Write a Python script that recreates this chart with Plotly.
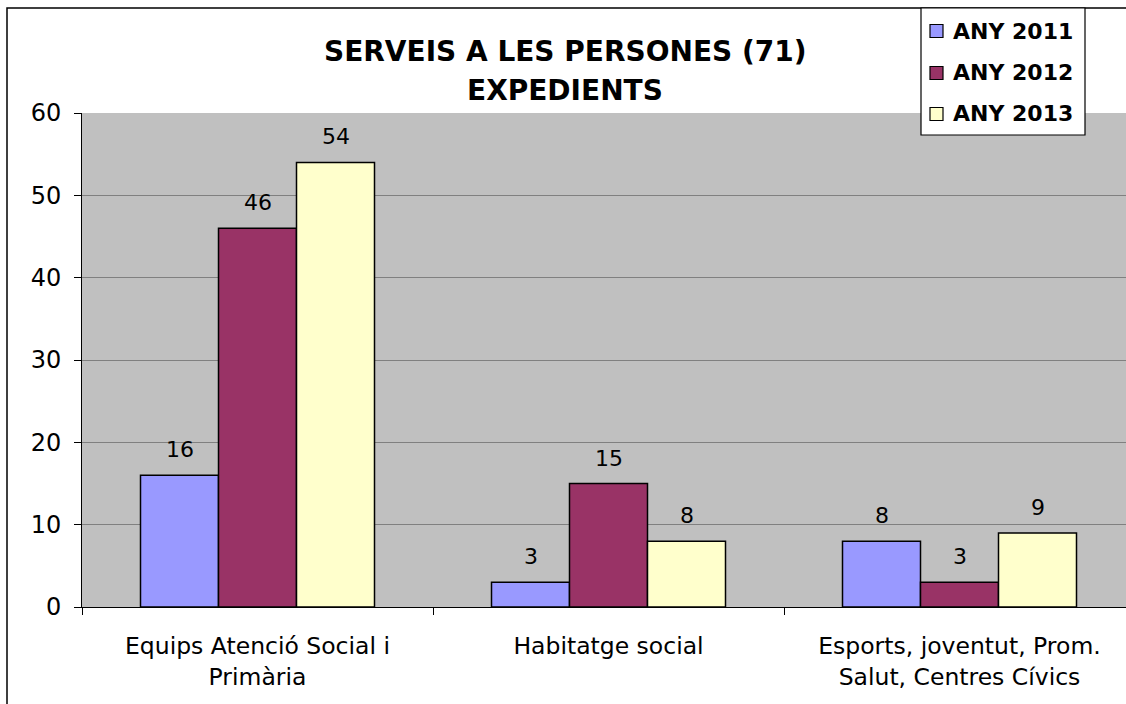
import plotly.graph_objects as go

categories = ["Equips Atenció Social i<br>Primària", "Habitatge social",
              "Esports, joventut, Prom.<br>Salut, Centres Cívics"]
series_names = ["ANY 2011", "ANY 2012", "ANY 2013"]
values_2011 = [16, 3, 8]
values_2012 = [46, 15, 3]
values_2013 = [54, 8, 9]
series_values = [values_2011, values_2012, values_2013]
colors = ["#9999FF", "#993366", "#FFFFCC"]
title_lines = ["SERVEIS A LES PERSONES (71)", "EXPEDIENTS"]

W, H = 1126, 704
ML, MR, MT, MB = 82, 0, 113, 97
PW = W - ML - MR
PH = H - MT - MB
CAT_PX = 351.0
BARGAP = 1 / 3
BAR_PX = CAT_PX * (1 - BARGAP) / 3


def px_x(px):
    return (px - ML) / PW


def px_y(py):
    return (H - MB - py) / PH


FONT = "DejaVu Sans"

fig = go.Figure()
for name, vals, col in zip(series_names, series_values, colors):
    fig.add_trace(go.Bar(
        x=categories, y=vals, name=name,
        marker=dict(color=col, line=dict(color="black", width=1.5)),
        showlegend=False,
    ))

annotations = []
for i, vals in enumerate(series_values):
    for c, v in zip(categories, vals):
        annotations.append(dict(
            x=c, y=v, xref="x", yref="y", text=str(v), showarrow=False,
            xanchor="center", yanchor="bottom", xshift=(i - 1) * BAR_PX, yshift=11,
            font=dict(family=FONT, size=22, color="black"),
        ))

# title, two lines
for line, cy in zip(title_lines, [51, 90]):
    annotations.append(dict(
        x=px_x(565), y=px_y(cy), xref="paper", yref="paper",
        text="<b>" + line + "</b>", showarrow=False,
        xanchor="center", yanchor="middle", align="center",
        font=dict(family=FONT, size=28, color="black"),
    ))

shapes = [
    # outer chart border
    dict(type="rect", xref="paper", yref="paper",
         x0=px_x(7), x1=px_x(1140), y0=px_y(720), y1=px_y(8),
         line=dict(color="black", width=1.5), fillcolor="rgba(0,0,0,0)", layer="above"),
    # legend box
    dict(type="rect", xref="paper", yref="paper",
         x0=px_x(921), x1=px_x(1085), y0=px_y(135), y1=px_y(8),
         line=dict(color="black", width=1.2), fillcolor="white", layer="above"),
]

legend_y = [31, 73, 114]
for name, col, ly in zip(series_names, colors, legend_y):
    shapes.append(dict(type="rect", xref="paper", yref="paper",
                       x0=px_x(930), x1=px_x(943), y0=px_y(ly + 6.5), y1=px_y(ly - 6.5),
                       line=dict(color="black", width=1.2), fillcolor=col, layer="above"))
    annotations.append(dict(
        x=px_x(951), y=px_y(ly), xref="paper", yref="paper",
        text="<b>" + name + "</b>", showarrow=False,
        xanchor="left", yanchor="middle",
        font=dict(family=FONT, size=22, color="black"),
    ))

fig.update_layout(
    width=W, height=H,
    margin=dict(l=ML, r=MR, t=MT, b=MB, pad=0),
    paper_bgcolor="white", plot_bgcolor="#C0C0C0",
    barmode="group", bargap=BARGAP, bargroupgap=0,
    annotations=annotations, shapes=shapes,
    font=dict(family=FONT, color="black"),
)
fig.update_xaxes(
    type="category", range=[-0.5, -0.5 + PW / CAT_PX],
    showgrid=False, showline=True, linecolor="black", linewidth=1,
    ticks="outside", tickson="boundaries", ticklen=7, tickcolor="black",
    tickfont=dict(family=FONT, size=23.5, color="black"),
    ticklabelstandoff=18,
)
fig.update_yaxes(
    range=[0, 60], dtick=10, showgrid=True, gridcolor="#808080", gridwidth=1,
    showline=True, linecolor="black", linewidth=1, zeroline=False,
    ticks="outside", ticklen=7, tickcolor="black",
    tickfont=dict(family=FONT, size=24, color="black"),
    ticklabelstandoff=8,
)

fig.write_html(
    "out.html",
    config={"displayModeBar": False},
    post_script="document.body.style.margin='0';document.body.style.overflow='hidden';",
)
